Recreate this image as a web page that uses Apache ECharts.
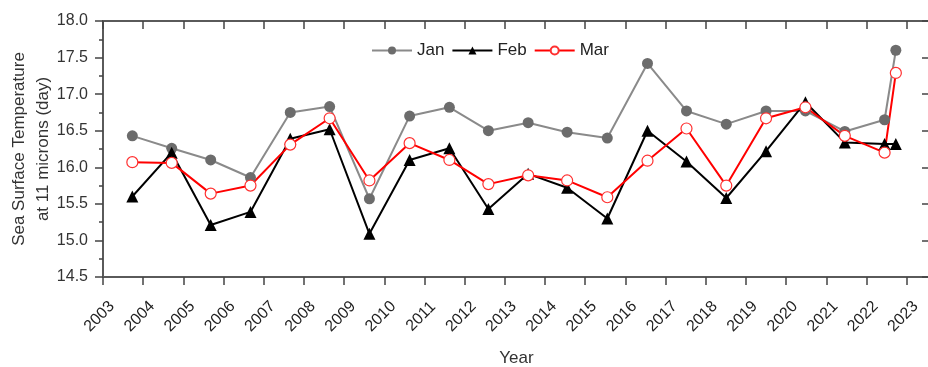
<!DOCTYPE html>
<html>
<head>
<meta charset="utf-8">
<script src="https://cdn.jsdelivr.net/npm/echarts@6/dist/echarts.min.js"></script>
<style>
html,body{margin:0;padding:0;background:#fff;}
#chart{width:928px;height:367px;}
</style>
</head>
<body>
<div id="chart"></div>
<script>
// Data
const years = [2003.73, 2004.71, 2005.68, 2006.67, 2007.66, 2008.64, 2009.63, 2010.63, 2011.62, 2012.59,
               2013.58, 2014.55, 2015.55, 2016.55, 2017.52, 2018.51, 2019.50, 2020.48, 2021.46, 2022.45, 2022.73];
const janValues = [16.43, 16.26, 16.10, 15.86, 16.75, 16.83, 15.57, 16.70, 16.82, 16.50,
                   16.61, 16.48, 16.40, 17.42, 16.77, 16.59, 16.77, 16.77, 16.49, 16.65, 17.60];
const febValues = [15.60, 16.20, 15.21, 15.39, 16.39, 16.52, 15.09, 16.10, 16.26, 15.43,
                   15.91, 15.72, 15.30, 16.50, 16.08, 15.58, 16.22, 16.89, 16.34, 16.32, 16.32];
const marValues = [16.07, 16.06, 15.64, 15.75, 16.31, 16.67, 15.82, 16.33, 16.10, 15.77,
                   15.89, 15.82, 15.59, 16.09, 16.53, 15.75, 16.67, 16.82, 16.43, 16.20, 17.29];
const seriesNames = ['Jan', 'Feb', 'Mar'];
const xAxisTitle = 'Year';
const yAxisTitle = 'Sea Surface Temperature\nat 11 microns (day)';

function pairs(xs, ys) { return xs.map((x, i) => [x, ys[i]]); }

const FONT = 'Liberation Sans, Arial, sans-serif';
const axisLineStyle = { color: '#5a5a5a', width: 2 };
const tickStyle = { color: '#444', width: 1.5 };

const chart = echarts.init(document.getElementById('chart'), null, { renderer: 'canvas' });
chart.setOption({
  animation: false,
  backgroundColor: '#fff',
  grid: { left: 103, right: -2, top: 21, bottom: 90, containLabel: false, outerBoundsMode: 'none' },
  legend: {
    left: 366, top: 37,
    itemWidth: 40, itemHeight: 10, itemGap: 7,
    textStyle: { fontFamily: FONT, fontSize: 17, color: '#222' },
    data: seriesNames
  },
  xAxis: [{
    type: 'value', min: 2003, max: 2023.58, interval: 1,
    name: xAxisTitle, nameLocation: 'middle', nameGap: 73,
    nameTextStyle: { fontFamily: FONT, fontSize: 17, color: '#333' },
    axisLine: { show: true, lineStyle: axisLineStyle },
    axisTick: { show: true, inside: false, length: 8, lineStyle: tickStyle },
    splitLine: { show: false },
    axisLabel: {
      rotate: 45, margin: 36, align: 'center', verticalAlign: 'middle',
      padding: [0, 10, 0, 0],
      fontFamily: FONT, fontSize: 16, color: '#222',
      formatter: v => Number.isInteger(v) ? String(v) : ''
    }
  }, {
    type: 'value', position: 'top', min: 2003, max: 2023.58, interval: 1,
    axisLine: { show: true, lineStyle: axisLineStyle },
    axisTick: { show: true, inside: true, length: 8, lineStyle: tickStyle },
    axisLabel: { show: false }, splitLine: { show: false }
  }],
  yAxis: [{
    type: 'value', min: 14.5, max: 18, interval: 0.5,
    name: yAxisTitle, nameLocation: 'middle', nameGap: 48, nameRotate: 90,
    nameMoveOverlap: false,
    nameTextStyle: { fontFamily: FONT, fontSize: 17, color: '#333', lineHeight: 24, align: 'center' },
    axisLine: { show: true, lineStyle: axisLineStyle },
    axisTick: { show: true, inside: false, length: 8, lineStyle: tickStyle },
    minorTick: { show: true, splitNumber: 2, length: 4, lineStyle: tickStyle },
    splitLine: { show: false }, minorSplitLine: { show: false },
    axisLabel: { fontFamily: FONT, fontSize: 16, color: '#333', margin: 15, formatter: v => v.toFixed(1) }
  }, {
    type: 'value', position: 'right', min: 14.5, max: 18, interval: 0.5,
    axisLine: { show: true, lineStyle: axisLineStyle },
    axisTick: { show: true, inside: true, length: 8, lineStyle: tickStyle },
    axisLabel: { show: false }, splitLine: { show: false }
  }],
  series: [{
    name: seriesNames[0], type: 'line', data: pairs(years, janValues),
    symbol: 'circle', symbolSize: 11,
    lineStyle: { color: '#8a8a8a', width: 2 },
    itemStyle: { color: '#6c6c6c' }
  }, {
    name: seriesNames[1], type: 'line', data: pairs(years, febValues),
    symbol: 'triangle', symbolSize: 12,
    lineStyle: { color: '#000', width: 2 },
    itemStyle: { color: '#000' }
  }, {
    name: seriesNames[2], type: 'line', data: pairs(years, marValues),
    symbol: 'circle', symbolSize: 11,
    lineStyle: { color: '#ff0000', width: 2 },
    itemStyle: { color: '#fff', borderColor: '#ff3030', borderWidth: 1.2 }
  }]
});
</script>
</body>
</html>
